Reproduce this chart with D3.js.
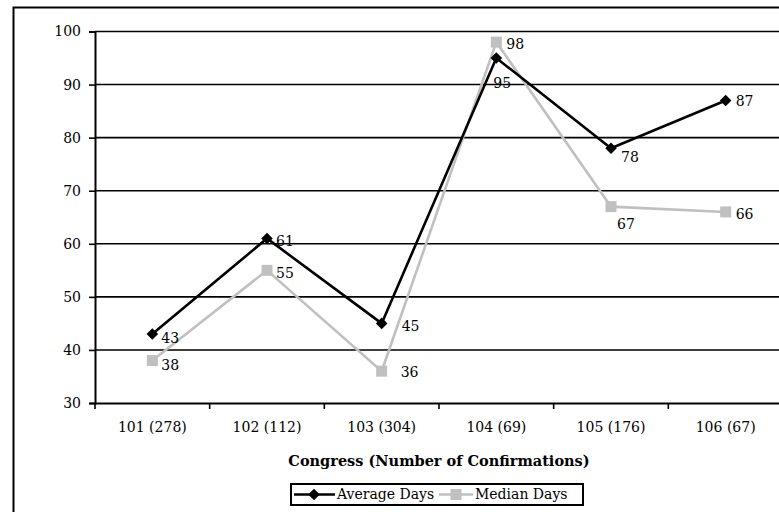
<!DOCTYPE html>
<html>
<head>
<meta charset="utf-8">
<script src="https://cdn.jsdelivr.net/npm/d3@7"></script>
<style>
  body { margin: 0; background: #fff; }
  svg { display: block; }
  text { font-family: "DejaVu Serif", serif; fill: #000; }
</style>
</head>
<body>
<svg id="chart" width="779" height="512"></svg>
<script>
// data
var congresses = ["101 (278)", "102 (112)", "103 (304)", "104 (69)", "105 (176)", "106 (67)"];
var averageDays = [43, 61, 45, 95, 78, 87];
var medianDays = [38, 55, 36, 98, 67, 66];
var yTicks = [30, 40, 50, 60, 70, 80, 90, 100];

// label nudges [dx, dy] for each point label
var avgLabelOffset = [[9, 4], [9, 3], [20, 3], [-3, 25], [10, 9], [10, 1]];
var medLabelOffset = [[9, 5], [9, 3], [19, 1], [10, 2], [6, 17], [10, 2]];

var svg = d3.select("#chart"),
    margin = {top: 31.5, right: -4, bottom: 109, left: 95},
    width = +svg.attr("width") - margin.left - margin.right,
    height = +svg.attr("height") - margin.top - margin.bottom;

// outer frame
svg.append("rect")
    .attr("x", 13.5).attr("y", 7.5)
    .attr("width", 800).attr("height", 600)
    .attr("fill", "none")
    .attr("stroke", "#000")
    .attr("stroke-width", 2);

var g = svg.append("g").attr("transform", "translate(" + margin.left + "," + margin.top + ")");

var x = d3.scaleBand()
    .domain(congresses)
    .range([0, width]);

var y = d3.scaleLinear()
    .domain([30, 100])
    .range([height, 0]);

// gridlines
g.selectAll(".grid")
  .data(yTicks.slice(1))
  .enter().append("line")
    .attr("class", "grid")
    .attr("x1", 0)
    .attr("x2", width)
    .attr("y1", function(d) { return y(d); })
    .attr("y2", function(d) { return y(d); })
    .attr("stroke", "#000")
    .attr("stroke-width", 1.6);

// y axis
var yAxis = g.append("g")
    .call(d3.axisLeft(y).tickValues(yTicks).tickSize(6).tickPadding(8));
yAxis.select(".domain").attr("stroke-width", 2);
yAxis.selectAll(".tick line").attr("stroke-width", 1.6);
yAxis.selectAll("text").style("font-family", "DejaVu Serif").style("font-size", "14px");

// x axis, ticks at band edges
var xAxis = g.append("g")
    .attr("transform", "translate(0," + height + ")")
    .call(d3.axisBottom(x).tickSize(0).tickPadding(19));
xAxis.select(".domain").attr("stroke-width", 2);
xAxis.selectAll("text").style("font-family", "DejaVu Serif").style("font-size", "14px");
g.selectAll(".xtick")
  .data(congresses)
  .enter().append("line")
    .attr("x1", function(d) { return x(d); })
    .attr("x2", function(d) { return x(d); })
    .attr("y1", height)
    .attr("y2", height + 6)
    .attr("stroke", "#000")
    .attr("stroke-width", 1.6);

var cx = function(d, i) { return x(congresses[i]) + x.bandwidth() / 2; };

var line = d3.line()
    .x(function(d, i) { return cx(d, i); })
    .y(function(d) { return y(d); });

// median series
g.append("path")
    .datum(medianDays)
    .attr("d", line)
    .attr("fill", "none")
    .attr("stroke", "#c0c0c0")
    .attr("stroke-width", 2.6);

g.selectAll(".med")
  .data(medianDays)
  .enter().append("rect")
    .attr("x", function(d, i) { return cx(d, i) - 5.5; })
    .attr("y", function(d) { return y(d) - 5.5; })
    .attr("width", 11)
    .attr("height", 11)
    .attr("fill", "#c0c0c0");

// average series
g.append("path")
    .datum(averageDays)
    .attr("d", line)
    .attr("fill", "none")
    .attr("stroke", "#000")
    .attr("stroke-width", 2.6);

var diamond = d3.symbol().type(d3.symbolDiamond2).size(85);
g.selectAll(".avg")
  .data(averageDays)
  .enter().append("path")
    .attr("d", diamond)
    .attr("transform", function(d, i) { return "translate(" + cx(d, i) + "," + y(d) + ")"; })
    .attr("fill", "#000");

// value labels
g.selectAll(".avgLabel")
  .data(averageDays)
  .enter().append("text")
    .attr("x", function(d, i) { return cx(d, i) + avgLabelOffset[i][0]; })
    .attr("y", function(d, i) { return y(d) + avgLabelOffset[i][1]; })
    .attr("dy", "0.35em")
    .style("font-size", "14px")
    .text(function(d) { return d; });

g.selectAll(".medLabel")
  .data(medianDays)
  .enter().append("text")
    .attr("x", function(d, i) { return cx(d, i) + medLabelOffset[i][0]; })
    .attr("y", function(d, i) { return y(d) + medLabelOffset[i][1]; })
    .attr("dy", "0.35em")
    .style("font-size", "14px")
    .text(function(d) { return d; });

// axis title
svg.append("text")
    .attr("x", 439)
    .attr("y", 466)
    .attr("text-anchor", "middle")
    .style("font-size", "14.5px")
    .style("font-weight", "bold")
    .text("Congress (Number of Confirmations)");

// legend
var legend = svg.append("g").attr("transform", "translate(291,484)");
legend.append("rect")
    .attr("width", 292).attr("height", 21)
    .attr("fill", "#fff")
    .attr("stroke", "#000")
    .attr("stroke-width", 2);

legend.append("line")
    .attr("x1", 3).attr("x2", 44).attr("y1", 10.5).attr("y2", 10.5)
    .attr("stroke", "#000").attr("stroke-width", 2.6);
legend.append("path")
    .attr("d", diamond)
    .attr("transform", "translate(23,10.5)")
    .attr("fill", "#000");
legend.append("text")
    .attr("x", 46).attr("y", 10.5).attr("dy", "0.35em")
    .style("font-size", "14px")
    .text("Average Days");

legend.append("line")
    .attr("x1", 148).attr("x2", 182).attr("y1", 10.5).attr("y2", 10.5)
    .attr("stroke", "#c0c0c0").attr("stroke-width", 2.6);
legend.append("rect")
    .attr("x", 159.5).attr("y", 5).attr("width", 11).attr("height", 11)
    .attr("fill", "#c0c0c0");
legend.append("text")
    .attr("x", 184).attr("y", 10.5).attr("dy", "0.35em")
    .style("font-size", "14px")
    .text("Median Days");
</script>
</body>
</html>
